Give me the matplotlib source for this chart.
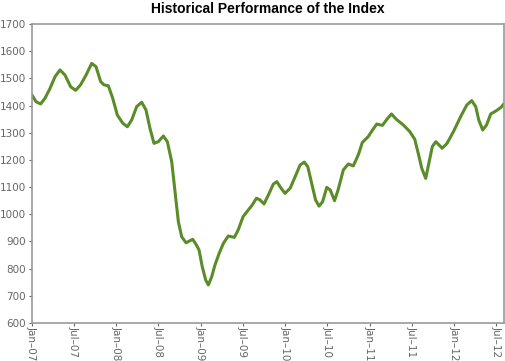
import numpy as np
import pandas as pd
import matplotlib
matplotlib.use("Agg")
import matplotlib.pyplot as plt

# index level: months after Jan 2007 and level
months = [0.0, 0.57, 1.23, 1.85, 2.56, 3.27, 3.98, 4.69, 5.5, 6.2,
          6.9, 7.68, 8.48, 9.1, 9.76, 10.23, 10.85, 11.47, 12.13, 12.9,
          13.55, 14.17, 14.88, 15.59, 16.2, 16.77, 17.34, 17.95, 18.67, 19.24,
          19.86, 20.33, 20.8, 21.28, 21.9, 22.84, 23.3, 23.74, 24.2, 24.69,
          25.07, 25.54, 26.0, 26.6, 27.2, 27.9, 28.76, 29.3, 30.0, 30.75,
          31.3, 31.9, 32.4, 32.98, 33.6, 34.3, 34.8, 35.4, 35.96, 36.7,
          37.4, 38.1, 38.7, 39.2, 39.75, 40.3, 40.8, 41.3, 41.9, 42.4,
          43.0, 43.5, 44.25, 44.96, 45.67, 46.4, 46.95, 47.8, 48.4, 49.0,
          49.8, 50.55, 51.1, 51.8, 52.8, 53.7, 54.4, 54.9, 55.4, 55.96,
          56.4, 56.9, 57.4, 58.3, 59.0, 59.9, 60.98, 61.8, 62.5, 63.07,
          63.5, 64.06, 64.6, 65.2, 66.0, 66.7, 67.05]
values = [1439, 1414, 1406, 1427, 1463, 1506, 1531, 1512, 1469, 1456,
          1476, 1512, 1555, 1543, 1488, 1476, 1473, 1427, 1365, 1335,
          1322, 1347, 1396, 1412, 1384, 1316, 1261, 1267, 1288, 1267,
          1193, 1083, 973, 917, 895, 908, 890, 869, 807, 758,
          740, 770, 813, 856, 893, 920, 915, 942, 991, 1016,
          1034, 1059, 1053, 1038, 1071, 1111, 1120, 1096, 1077, 1096,
          1138, 1181, 1192, 1175, 1114, 1053, 1030, 1046, 1099, 1089,
          1050, 1089, 1163, 1185, 1178, 1220, 1264, 1286, 1310, 1332,
          1327, 1353, 1369, 1349, 1328, 1304, 1276, 1224, 1169, 1132,
          1187, 1249, 1267, 1243, 1261, 1304, 1362, 1402, 1418, 1396,
          1347, 1310, 1328, 1369, 1381, 1394, 1406]

yticks = np.arange(600, 1701, 100)
xticks = pd.date_range("2007-01-01", "2012-07-01", freq="6MS")
xticklabels = [d.strftime("%b") + "\u2013" + d.strftime("%y") for d in xticks]

start = pd.Timestamp("2007-01-01")
dates = [start + pd.Timedelta(days=m * 30.4375) for m in months]

fig = plt.figure(figsize=(5.05, 3.61), dpi=100)
ax = fig.add_axes([32 / 505, 38 / 361, 472 / 505, 299 / 361])

ax.plot(dates, values, color="#5a8c28", lw=2.2, solid_joinstyle="round",
        solid_capstyle="round")

ax.set_ylim(600, 1700)
ax.set_yticks(yticks)
ax.set_xlim(start, pd.Timestamp("2012-08-04"))
ax.set_xticks(xticks)
ax.set_xticklabels(xticklabels, rotation=-90, va="top", ha="center")

for s in ax.spines.values():
    s.set_color("#999999")
    s.set_linewidth(1.2)
ax.tick_params(colors="#666666", labelsize=7.5, length=2.5, width=0.8)
ax.tick_params(axis="x", pad=0)
ax.tick_params(axis="y", pad=2)

fig.suptitle("Historical Performance of the Index", x=268 / 505, y=0.995,
             fontsize=10, fontweight="bold", family="Liberation Sans")

fig.savefig("out.png", dpi=100)
